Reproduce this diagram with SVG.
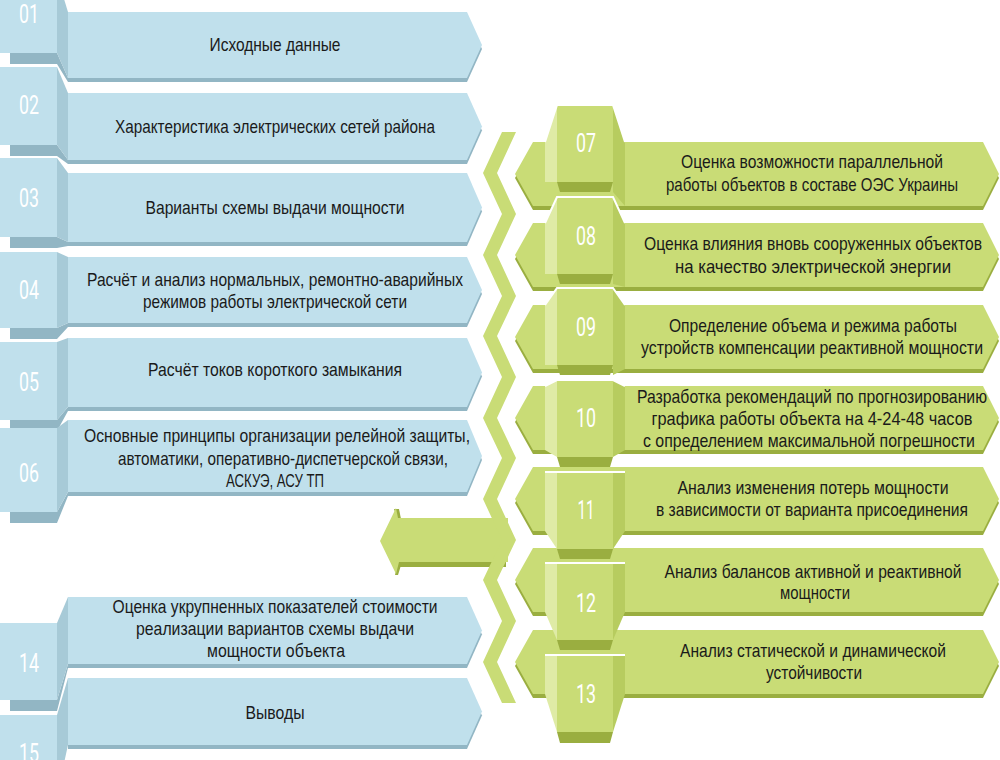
<svg xmlns="http://www.w3.org/2000/svg" width="1000" height="760" viewBox="0 0 1000 760">
<style>
.bf{fill:#c0e0ec}.bs{fill:#a7cad7}.bd{fill:#92b6c4}
.gf{fill:#c9dc76}.gl{fill:#dfeba6}.gr{fill:#b7cc5f}.gd{fill:#9aae40}
.wl{fill:none;stroke:#fff;stroke-width:2}
.t{font-family:"Liberation Sans",Arial,sans-serif;font-size:19px;fill:#1a1a1a;text-anchor:middle}
.n{font-family:Roboto,"Liberation Sans",sans-serif;font-weight:400;font-size:25px;fill:#fff;text-anchor:middle}
</style>
<rect width="1000" height="760" fill="#fff"/>

<g id="connectors">
  <polygon class="gd" points="399,562 506,562 506,567 400,567"/>
  <polygon class="gd" points="394,509 399,509 401,519 397,519"/>
  <polygon class="gd" points="398,562 402,562 398,575 395,575"/>
  <polygon class="gf" points="380,541 396,508 398,518 508,518 508,562 399,562 396,574"/>
  <polygon class="gf" points="502,132 483,173 502,214 483,255 502,296 483,336 502,377 483,418 502,458 483,499 502,540 483,580 502,621 483,662 502,703 516,703 497,662 516,621 497,580 516,540 497,499 516,458 497,418 516,377 497,336 516,296 497,255 516,214 497,173 516,132"/>
</g>

<g id="n01">
  <polygon class="bd" points="10,53 57,53 68,78 68,82 57,64 10,64"/>
  <polygon class="bd" points="68,16 467,16 482,49 467,82 68,82"/>
  <polygon class="bf" points="68,12 467,12 482,45 467,78 68,78"/>
  <polygon class="bs" points="57,-24 68,12 68,78 57,53"/>
  <rect class="bf" x="0" y="-24" width="57" height="77"/>
  <text class="n" x="29" y="23" textLength="20" lengthAdjust="spacingAndGlyphs">01</text>
  <text class="t" x="275" y="51" textLength="131" lengthAdjust="spacingAndGlyphs">Исходные данные</text>
</g>
<g id="n02">
  <polygon class="bd" points="10,145 57,145 68,160 68,164 57,156 10,156"/>
  <polygon class="bd" points="68,97 467,97 482,130.5 467,164 68,164"/>
  <polygon class="bf" points="68,93 467,93 482,126.5 467,160 68,160"/>
  <polygon class="bs" points="57,67 68,93 68,160 57,145"/>
  <rect class="bf" x="0" y="67" width="57" height="78"/>
  <text class="n" x="29" y="114" textLength="20" lengthAdjust="spacingAndGlyphs">02</text>
  <text class="t" x="275" y="133" textLength="320" lengthAdjust="spacingAndGlyphs">Характеристика электрических сетей района</text>
</g>
<g id="n03">
  <polygon class="bd" points="10,237 57,237 68,242 68,246 57,248 10,248"/>
  <polygon class="bd" points="68,177 467,177 482,211.5 467,246 68,246"/>
  <polygon class="bf" points="68,173 467,173 482,207.5 467,242 68,242"/>
  <polygon class="bs" points="57,158 68,173 68,242 57,237"/>
  <rect class="bf" x="0" y="158" width="57" height="79"/>
  <text class="n" x="29" y="207" textLength="20" lengthAdjust="spacingAndGlyphs">03</text>
  <text class="t" x="275" y="214" textLength="259" lengthAdjust="spacingAndGlyphs">Варианты схемы выдачи мощности</text>
</g>
<g id="n04">
  <polygon class="bd" points="10,328 57,328 68,323 68,327 57,339 10,339"/>
  <polygon class="bd" points="68,261 467,261 482,294 467,327 68,327"/>
  <polygon class="bf" points="68,257 467,257 482,290 467,323 68,323"/>
  <polygon class="bs" points="57,252 68,257 68,323 57,328"/>
  <rect class="bf" x="0" y="252" width="57" height="76"/>
  <text class="n" x="29" y="299" textLength="20" lengthAdjust="spacingAndGlyphs">04</text>
  <text class="t" x="275" y="286" textLength="376" lengthAdjust="spacingAndGlyphs">Расчёт и анализ нормальных, ремонтно-аварийных</text>
  <text class="t" x="275" y="308" textLength="264" lengthAdjust="spacingAndGlyphs">режимов работы электрической сети</text>
</g>
<g id="n05">
  <polygon class="bd" points="10,420 57,420 68,407 68,411 57,431 10,431"/>
  <polygon class="bd" points="68,342 467,342 482,376.5 467,411 68,411"/>
  <polygon class="bf" points="68,338 467,338 482,372.5 467,407 68,407"/>
  <polygon class="bs" points="57,342 68,338 68,407 57,420"/>
  <rect class="bf" x="0" y="342" width="57" height="78"/>
  <text class="n" x="29" y="391" textLength="20" lengthAdjust="spacingAndGlyphs">05</text>
  <text class="t" x="275" y="376" textLength="254" lengthAdjust="spacingAndGlyphs">Расчёт токов короткого замыкания</text>
</g>
<g id="n06">
  <polygon class="bd" points="10,512 57,512 68,492 68,496 57,523 10,523"/>
  <polygon class="bd" points="68,424 467,424 482,460 467,496 68,496"/>
  <polygon class="bf" points="68,420 467,420 482,456 467,492 68,492"/>
  <polygon class="bs" points="57,428 68,420 68,492 57,512"/>
  <rect class="bf" x="0" y="428" width="57" height="84"/>
  <text class="n" x="29" y="482" textLength="20" lengthAdjust="spacingAndGlyphs">06</text>
  <text class="t" x="277" y="442" textLength="386" lengthAdjust="spacingAndGlyphs">Основные принципы организации релейной защиты,</text>
  <text class="t" x="283" y="465" textLength="330" lengthAdjust="spacingAndGlyphs">автоматики, оперативно-диспетчерской связи,</text>
  <text class="t" x="275" y="487" textLength="98" lengthAdjust="spacingAndGlyphs">АСКУЭ, АСУ ТП</text>
</g>
<g id="n14">
  <polygon class="bd" points="10,700 57,700 68,664 68,668 57,711 10,711"/>
  <polygon class="bd" points="68,601 467,601 482,634.5 467,668 68,668"/>
  <polygon class="bf" points="68,597 467,597 482,630.5 467,664 68,664"/>
  <polygon class="bs" points="57,623 68,597 68,664 57,700"/>
  <rect class="bf" x="0" y="623" width="57" height="77"/>
  <text class="n" x="29" y="672" textLength="20" lengthAdjust="spacingAndGlyphs">14</text>
  <text class="t" x="275" y="613" textLength="325" lengthAdjust="spacingAndGlyphs">Оценка укрупненных показателей стоимости</text>
  <text class="t" x="275" y="635" textLength="278" lengthAdjust="spacingAndGlyphs">реализации вариантов схемы выдачи</text>
  <text class="t" x="276" y="657" textLength="138" lengthAdjust="spacingAndGlyphs">мощности объекта</text>
</g>
<g id="n15">
  <polygon class="bd" points="68,682 467,682 482,715.5 467,749 68,749"/>
  <polygon class="bf" points="68,678 467,678 482,711.5 467,745 68,745"/>
  <polygon class="bs" points="57,715 68,678 68,745 57,795"/>
  <rect class="bf" x="0" y="715" width="57" height="80"/>
  <text class="n" x="29" y="762" textLength="20" lengthAdjust="spacingAndGlyphs">15</text>
  <text class="t" x="275" y="719" textLength="59" lengthAdjust="spacingAndGlyphs">Выводы</text>
</g>

<g id="bars-right">
  <polygon class="gd" points="515,178 533,146 983,146 999,178 983,210 533,210"/>
  <polygon class="gf" points="515,174 533,142 983,142 999,174 983,206 533,206"/>
  <polygon class="gd" points="515,259 533,227 983,227 999,259 983,291 533,291"/>
  <polygon class="gf" points="515,255 533,223 983,223 999,255 983,287 533,287"/>
  <polygon class="gd" points="515,341 533,309 983,309 999,341 983,373 533,373"/>
  <polygon class="gf" points="515,337 533,305 983,305 999,337 983,369 533,369"/>
  <polygon class="gd" points="515,422 533,390 983,390 999,422 983,454 533,454"/>
  <polygon class="gf" points="515,418 533,386 983,386 999,418 983,450 533,450"/>
  <polygon class="gd" points="515,503 533,471 983,471 999,503 983,535 533,535"/>
  <polygon class="gf" points="515,499 533,467 983,467 999,499 983,531 533,531"/>
  <polygon class="gd" points="515,584 533,552 983,552 999,584 983,616 533,616"/>
  <polygon class="gf" points="515,580 533,548 983,548 999,580 983,612 533,612"/>
  <polygon class="gd" points="515,666 533,634 983,634 999,666 983,698 533,698"/>
  <polygon class="gf" points="515,662 533,630 983,630 999,662 983,694 533,694"/>
</g>

<g id="n07">
  <polygon class="gl" points="557,105 545,142 545,182 557,182"/>
  <polygon class="gr" points="613,105 625,142 625,206 613,192"/>
  <rect class="gf" x="557" y="105" width="56" height="77"/>
  <polygon class="gd" points="557,182 613,182 610,192 560,192"/>
  <polyline class="wl" points="545,142 557,105 613,105 625,142"/>
  <text class="n" x="586" y="152" textLength="20" lengthAdjust="spacingAndGlyphs">07</text>
  <text class="t" x="812" y="168" textLength="262" lengthAdjust="spacingAndGlyphs">Оценка возможности параллельной</text>
  <text class="t" x="812" y="191" textLength="292" lengthAdjust="spacingAndGlyphs">работы объектов в составе ОЭС Украины</text>
</g>
<g id="n08">
  <polygon class="gl" points="557,197 545,223 545,274 557,274"/>
  <polygon class="gr" points="613,197 625,223 625,287 613,284"/>
  <rect class="gf" x="557" y="197" width="56" height="77"/>
  <polygon class="gd" points="557,274 613,274 610,284 560,284"/>
  <polyline class="wl" points="545,223 557,197 613,197 625,223"/>
  <text class="n" x="586" y="245" textLength="20" lengthAdjust="spacingAndGlyphs">08</text>
  <text class="t" x="813" y="250" textLength="338" lengthAdjust="spacingAndGlyphs">Оценка влияния вновь сооруженных объектов</text>
  <text class="t" x="813" y="273" textLength="276" lengthAdjust="spacingAndGlyphs">на качество электрической энергии</text>
</g>
<g id="n09">
  <polygon class="gl" points="557,288 545,305 545,365 557,365"/>
  <polygon class="gr" points="613,288 625,305 625,369 613,375"/>
  <rect class="gf" x="557" y="288" width="56" height="77"/>
  <polygon class="gd" points="557,365 613,365 610,375 560,375"/>
  <polyline class="wl" points="545,305 557,288 613,288 625,305"/>
  <text class="n" x="586" y="336" textLength="20" lengthAdjust="spacingAndGlyphs">09</text>
  <text class="t" x="813" y="332" textLength="288" lengthAdjust="spacingAndGlyphs">Определение объема и режима работы</text>
  <text class="t" x="812" y="354" textLength="342" lengthAdjust="spacingAndGlyphs">устройств компенсации реактивной мощности</text>
</g>
<g id="n10">
  <polygon class="gl" points="557,380 545,386 545,450 557,457"/>
  <polygon class="gr" points="613,380 625,386 625,450 613,457"/>
  <rect class="gf" x="557" y="380" width="56" height="77"/>
  <polygon class="gd" points="557,457 613,457 610,467 560,467"/>
  <polyline class="wl" points="545,386 557,380 613,380 625,386"/>
  <text class="n" x="586" y="427" textLength="20" lengthAdjust="spacingAndGlyphs">10</text>
  <text class="t" x="812" y="403" textLength="350" lengthAdjust="spacingAndGlyphs">Разработка рекомендаций по прогнозированию</text>
  <text class="t" x="812" y="425" textLength="321" lengthAdjust="spacingAndGlyphs">графика работы объекта на 4-24-48 часов</text>
  <text class="t" x="809" y="447" textLength="332" lengthAdjust="spacingAndGlyphs">с определением максимальной погрешности</text>
</g>
<g id="n11">
  <polygon class="gl" points="557,472 545,472 545,531 557,549"/>
  <polygon class="gr" points="613,472 625,472 625,531 613,549"/>
  <rect class="gf" x="557" y="472" width="56" height="77"/>
  <polygon class="gd" points="557,549 613,549 610,559 560,559"/>
  <polyline class="wl" points="545,472 625,472"/>
  <text class="n" x="586" y="519" textLength="17" lengthAdjust="spacingAndGlyphs">11</text>
  <text class="t" x="813" y="494" textLength="271" lengthAdjust="spacingAndGlyphs">Анализ изменения потерь мощности</text>
  <text class="t" x="812" y="516" textLength="312" lengthAdjust="spacingAndGlyphs">в зависимости от варианта присоединения</text>
</g>
<g id="n12">
  <polygon class="gl" points="557,563 545,563 545,612 557,640"/>
  <polygon class="gr" points="613,563 625,563 625,612 613,640"/>
  <rect class="gf" x="557" y="563" width="56" height="77"/>
  <polygon class="gd" points="557,640 613,640 610,650 560,650"/>
  <polyline class="wl" points="545,563 625,563"/>
  <text class="n" x="586" y="612" textLength="20" lengthAdjust="spacingAndGlyphs">12</text>
  <text class="t" x="813" y="578" textLength="297" lengthAdjust="spacingAndGlyphs">Анализ балансов активной и реактивной</text>
  <text class="t" x="815" y="599" textLength="70" lengthAdjust="spacingAndGlyphs">мощности</text>
</g>
<g id="n13">
  <polygon class="gl" points="557,655 545,655 545,694 557,732"/>
  <polygon class="gr" points="613,655 625,655 625,694 613,732"/>
  <rect class="gf" x="557" y="655" width="56" height="77"/>
  <polygon class="gd" points="557,732 613,732 610,743 560,743"/>
  <polyline class="wl" points="545,655 625,655"/>
  <text class="n" x="586" y="703" textLength="20" lengthAdjust="spacingAndGlyphs">13</text>
  <text class="t" x="813" y="657" textLength="266" lengthAdjust="spacingAndGlyphs">Анализ статической и динамической</text>
  <text class="t" x="814" y="679" textLength="96" lengthAdjust="spacingAndGlyphs">устойчивости</text>
</g>
</svg>
